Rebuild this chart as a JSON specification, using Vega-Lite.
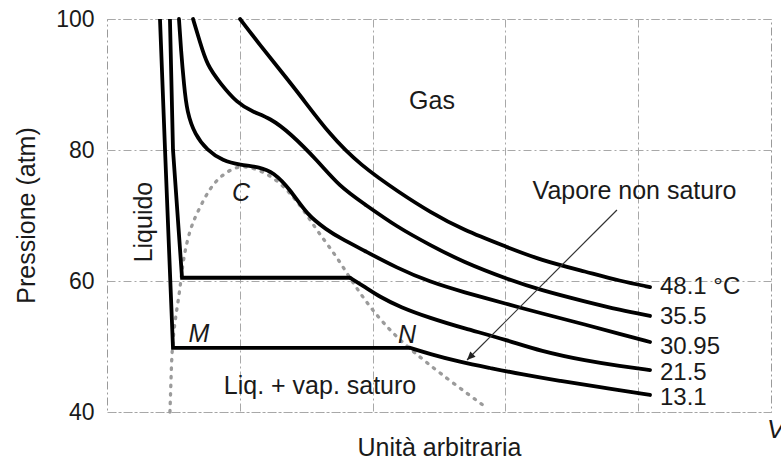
{
  "$schema": "https://vega.github.io/schema/vega-lite/v6.json",
  "width": 664,
  "height": 393,
  "autosize": {"type": "none"},
  "padding": {"left": 107, "top": 19, "right": 10, "bottom": 46},
  "background": "white",
  "config": {
    "font": "Liberation Sans",
    "view": {"stroke": "#9a9a9a", "strokeDash": [8, 3, 2, 3], "strokeWidth": 1},
    "axis": {
      "gridColor": "#a8a8a8", "gridDash": [8, 3, 2, 3], "gridWidth": 1, "gridOpacity": 1,
      "domain": false, "ticks": false,
      "labelColor": "#1a1a1a", "titleColor": "#1a1a1a", "titleFontWeight": "normal",
      "labelFont": "Liberation Sans", "titleFont": "Liberation Sans"
    }
  },
  "datasets": {
    "iso": [
      {"T": "13.1", "part": "liq", "x": 0.399, "y": 100},
      {"T": "13.1", "part": "liq", "x": 0.437, "y": 80.0},
      {"T": "13.1", "part": "liq", "x": 0.497, "y": 49.8},
      {"T": "13.1", "part": "liq", "x": 2.282, "y": 49.8},
      {"T": "13.1", "part": "gas", "x": 2.282, "y": 49.8},
      {"T": "13.1", "part": "gas", "x": 2.432, "y": 48.85},
      {"T": "13.1", "part": "gas", "x": 2.658, "y": 47.63},
      {"T": "13.1", "part": "gas", "x": 2.884, "y": 46.72},
      {"T": "13.1", "part": "gas", "x": 3.110, "y": 45.80},
      {"T": "13.1", "part": "gas", "x": 3.411, "y": 44.73},
      {"T": "13.1", "part": "gas", "x": 3.712, "y": 43.82},
      {"T": "13.1", "part": "gas", "x": 4.089, "y": 42.60},
      {"T": "21.5", "part": "liq", "x": 0.474, "y": 100},
      {"T": "21.5", "part": "liq", "x": 0.497, "y": 80.0},
      {"T": "21.5", "part": "liq", "x": 0.565, "y": 60.5},
      {"T": "21.5", "part": "liq", "x": 1.830, "y": 60.5},
      {"T": "21.5", "part": "gas", "x": 1.830, "y": 60.5},
      {"T": "21.5", "part": "gas", "x": 1.943, "y": 59.08},
      {"T": "21.5", "part": "gas", "x": 2.056, "y": 57.56},
      {"T": "21.5", "part": "gas", "x": 2.206, "y": 56.03},
      {"T": "21.5", "part": "gas", "x": 2.432, "y": 54.35},
      {"T": "21.5", "part": "gas", "x": 2.681, "y": 52.82},
      {"T": "21.5", "part": "gas", "x": 3.012, "y": 50.99},
      {"T": "21.5", "part": "gas", "x": 3.261, "y": 49.31},
      {"T": "21.5", "part": "gas", "x": 3.614, "y": 47.79},
      {"T": "21.5", "part": "gas", "x": 3.863, "y": 47.02},
      {"T": "21.5", "part": "gas", "x": 4.089, "y": 46.41},
      {"T": "30.95", "part": "gas", "x": 0.542, "y": 100},
      {"T": "30.95", "part": "gas", "x": 0.557, "y": 95.27},
      {"T": "30.95", "part": "gas", "x": 0.580, "y": 89.92},
      {"T": "30.95", "part": "gas", "x": 0.602, "y": 85.80},
      {"T": "30.95", "part": "gas", "x": 0.663, "y": 82.29},
      {"T": "30.95", "part": "gas", "x": 0.753, "y": 80.0},
      {"T": "30.95", "part": "gas", "x": 0.873, "y": 78.32},
      {"T": "30.95", "part": "gas", "x": 1.002, "y": 77.71},
      {"T": "30.95", "part": "gas", "x": 1.152, "y": 77.40},
      {"T": "30.95", "part": "gas", "x": 1.250, "y": 76.64},
      {"T": "30.95", "part": "gas", "x": 1.378, "y": 74.05},
      {"T": "30.95", "part": "gas", "x": 1.506, "y": 70.08},
      {"T": "30.95", "part": "gas", "x": 1.657, "y": 67.79},
      {"T": "30.95", "part": "gas", "x": 1.755, "y": 66.56},
      {"T": "30.95", "part": "gas", "x": 1.928, "y": 64.73},
      {"T": "30.95", "part": "gas", "x": 2.184, "y": 61.98},
      {"T": "30.95", "part": "gas", "x": 2.432, "y": 59.85},
      {"T": "30.95", "part": "gas", "x": 2.681, "y": 58.32},
      {"T": "30.95", "part": "gas", "x": 3.012, "y": 56.49},
      {"T": "30.95", "part": "gas", "x": 3.261, "y": 55.11},
      {"T": "30.95", "part": "gas", "x": 3.614, "y": 53.28},
      {"T": "30.95", "part": "gas", "x": 3.863, "y": 51.91},
      {"T": "30.95", "part": "gas", "x": 4.089, "y": 50.69},
      {"T": "35.5", "part": "gas", "x": 0.648, "y": 100},
      {"T": "35.5", "part": "gas", "x": 0.700, "y": 96.49},
      {"T": "35.5", "part": "gas", "x": 0.753, "y": 92.98},
      {"T": "35.5", "part": "gas", "x": 0.851, "y": 90.23},
      {"T": "35.5", "part": "gas", "x": 0.979, "y": 87.18},
      {"T": "35.5", "part": "gas", "x": 1.099, "y": 85.80},
      {"T": "35.5", "part": "gas", "x": 1.227, "y": 84.89},
      {"T": "35.5", "part": "gas", "x": 1.378, "y": 82.60},
      {"T": "35.5", "part": "gas", "x": 1.581, "y": 78.47},
      {"T": "35.5", "part": "gas", "x": 1.755, "y": 74.35},
      {"T": "35.5", "part": "gas", "x": 1.928, "y": 71.91},
      {"T": "35.5", "part": "gas", "x": 2.184, "y": 68.24},
      {"T": "35.5", "part": "gas", "x": 2.432, "y": 65.50},
      {"T": "35.5", "part": "gas", "x": 2.681, "y": 62.90},
      {"T": "35.5", "part": "gas", "x": 3.012, "y": 60.31},
      {"T": "35.5", "part": "gas", "x": 3.261, "y": 58.63},
      {"T": "35.5", "part": "gas", "x": 3.614, "y": 56.79},
      {"T": "35.5", "part": "gas", "x": 3.863, "y": 55.57},
      {"T": "35.5", "part": "gas", "x": 4.089, "y": 54.66},
      {"T": "48.1", "part": "gas", "x": 1.002, "y": 100},
      {"T": "48.1", "part": "gas", "x": 1.152, "y": 96.03},
      {"T": "48.1", "part": "gas", "x": 1.303, "y": 92.21},
      {"T": "48.1", "part": "gas", "x": 1.453, "y": 88.40},
      {"T": "48.1", "part": "gas", "x": 1.679, "y": 82.29},
      {"T": "48.1", "part": "gas", "x": 1.905, "y": 77.71},
      {"T": "48.1", "part": "gas", "x": 2.206, "y": 73.44},
      {"T": "48.1", "part": "gas", "x": 2.432, "y": 70.53},
      {"T": "48.1", "part": "gas", "x": 2.681, "y": 67.79},
      {"T": "48.1", "part": "gas", "x": 3.012, "y": 65.19},
      {"T": "48.1", "part": "gas", "x": 3.261, "y": 63.21},
      {"T": "48.1", "part": "gas", "x": 3.614, "y": 61.37},
      {"T": "48.1", "part": "gas", "x": 3.863, "y": 60.00},
      {"T": "48.1", "part": "gas", "x": 4.089, "y": 59.08}
    ],
    "dome": [
      {"x": 0.474, "y": 40.0}, {"x": 0.482, "y": 44.89}, {"x": 0.489, "y": 49.47},
      {"x": 0.512, "y": 54.05}, {"x": 0.550, "y": 58.63}, {"x": 0.572, "y": 63.21},
      {"x": 0.625, "y": 68.09}, {"x": 0.700, "y": 71.30}, {"x": 0.776, "y": 74.20},
      {"x": 0.851, "y": 75.88}, {"x": 0.926, "y": 76.95}, {"x": 1.002, "y": 77.56},
      {"x": 1.114, "y": 77.25}, {"x": 1.265, "y": 75.73}, {"x": 1.393, "y": 73.13},
      {"x": 1.491, "y": 70.53}, {"x": 1.589, "y": 67.48}, {"x": 1.732, "y": 63.66},
      {"x": 1.852, "y": 59.69}, {"x": 1.980, "y": 56.03}, {"x": 2.108, "y": 52.98},
      {"x": 2.229, "y": 50.53}, {"x": 2.410, "y": 47.48}, {"x": 2.605, "y": 44.43},
      {"x": 2.861, "y": 40.61}
    ],
    "arrow": [
      {"pt": "tail", "x": 3.840, "y": 70.84},
      {"pt": "tip", "x": 2.711, "y": 47.94}
    ],
    "notes": [
      {"kind": "region", "label": "Gas", "x": 2.447, "y": 87.5},
      {"kind": "region", "label": "Vapore non saturo", "x": 3.972, "y": 73.74},
      {"kind": "region", "label": "Liq. + vap. saturo", "x": 1.604, "y": 43.97},
      {"kind": "point", "label": "C", "x": 1.009, "y": 73.36},
      {"kind": "point", "label": "M", "x": 0.693, "y": 51.98},
      {"kind": "point", "label": "N", "x": 2.259, "y": 51.76},
      {"kind": "phase", "label": "Liquido", "x": 0.279, "y": 69.0},
      {"kind": "iso", "label": "48.1 °C", "x": 4.164, "y": 59.08},
      {"kind": "iso", "label": "35.5", "x": 4.164, "y": 54.5},
      {"kind": "iso", "label": "30.95", "x": 4.164, "y": 50.0},
      {"kind": "iso", "label": "21.5", "x": 4.164, "y": 46.0},
      {"kind": "iso", "label": "13.1", "x": 4.164, "y": 42.1},
      {"kind": "axis", "label": "V", "x": 4.970, "y": 37.25}
    ]
  },
  "encoding": {
    "x": {
      "field": "x", "type": "quantitative",
      "scale": {"domain": [0, 5], "nice": false, "zero": false},
      "axis": {
        "values": [1, 2, 3, 4], "labels": false, "grid": true,
        "title": "Unità arbitraria", "titleFontSize": 25,
        "titleY": 23, "titleBaseline": "top"
      }
    },
    "y": {
      "field": "y", "type": "quantitative",
      "scale": {"domain": [40, 100], "nice": false, "zero": false},
      "axis": {
        "values": [40, 60, 80, 100], "grid": true,
        "labelFontSize": 23, "labelPadding": 13,
        "title": "Pressione (atm)", "titleFontSize": 25,
        "titleX": -81, "titleY": 196, "titleBaseline": "middle", "titleAlign": "center"
      }
    }
  },
  "layer": [
    {
      "data": {"name": "dome"},
      "mark": {"type": "line", "interpolate": "basis", "color": "#9b9b9b", "strokeWidth": 3.3, "strokeDash": [1.5, 7], "strokeCap": "round"}
    },
    {
      "data": {"name": "iso"},
      "transform": [{"filter": "datum.part === 'liq'"}],
      "mark": {"type": "line", "interpolate": "linear", "color": "#000000", "strokeWidth": 3.8, "strokeJoin": "miter"},
      "encoding": {"detail": {"field": "T"}}
    },
    {
      "data": {"name": "iso"},
      "transform": [{"filter": "datum.part === 'gas'"}],
      "mark": {"type": "line", "interpolate": "basis", "color": "#000000", "strokeWidth": 3.8, "strokeCap": "round"},
      "encoding": {"detail": {"field": "T"}}
    },
    {
      "data": {"name": "arrow"},
      "mark": {"type": "line", "color": "#333333", "strokeWidth": 1.2},
      "encoding": {}
    },
    {
      "data": {"name": "arrow"},
      "transform": [{"filter": "datum.pt === 'tip'"}],
      "mark": {"type": "point", "shape": "M 0 0 L -0.45 1 L 0.45 1 Z", "filled": true, "color": "#222222", "size": 280, "angle": 225, "opacity": 1}
    },
    {
      "data": {"name": "notes"},
      "transform": [{"filter": "datum.kind === 'region'"}],
      "mark": {"type": "text", "fontSize": 25, "color": "#1a1a1a", "align": "center", "baseline": "middle"},
      "encoding": {"text": {"field": "label"}}
    },
    {
      "data": {"name": "notes"},
      "transform": [{"filter": "datum.kind === 'point'"}],
      "mark": {"type": "text", "fontSize": 25, "fontStyle": "italic", "color": "#1a1a1a", "align": "center", "baseline": "middle"},
      "encoding": {"text": {"field": "label"}}
    },
    {
      "data": {"name": "notes"},
      "transform": [{"filter": "datum.kind === 'phase'"}],
      "mark": {"type": "text", "fontSize": 25, "angle": 270, "color": "#1a1a1a", "align": "center", "baseline": "middle"},
      "encoding": {"text": {"field": "label"}}
    },
    {
      "data": {"name": "notes"},
      "transform": [{"filter": "datum.kind === 'iso'"}],
      "mark": {"type": "text", "fontSize": 24, "color": "#1a1a1a", "align": "left", "baseline": "middle"},
      "encoding": {"text": {"field": "label"}}
    },
    {
      "data": {"name": "notes"},
      "transform": [{"filter": "datum.kind === 'axis'"}],
      "mark": {"type": "text", "fontSize": 26, "fontStyle": "italic", "color": "#1a1a1a", "align": "left", "baseline": "middle"},
      "encoding": {"text": {"field": "label"}}
    }
  ]
}
